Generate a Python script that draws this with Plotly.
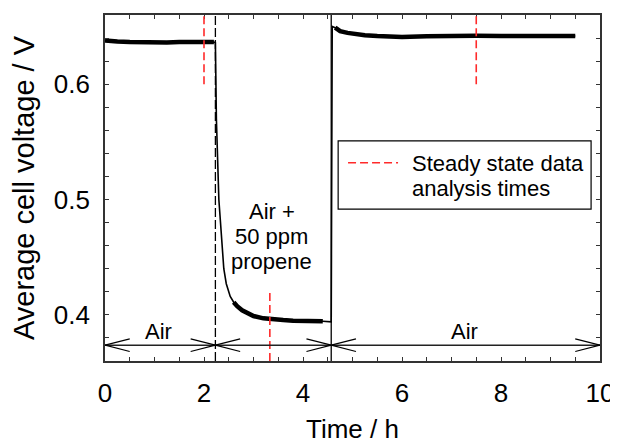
import plotly.graph_objects as go

# ---------------- data ----------------
# Phase 1: air
t_air1 = [0.0, 0.1, 0.25, 0.5, 0.75, 1.0, 1.25, 1.5, 1.75, 2.0, 2.2, 2.23]
v_air1 = [0.638, 0.6375, 0.637, 0.6365, 0.6362, 0.636, 0.6362, 0.6365, 0.6368, 0.637, 0.6365, 0.636]
# Phase 2: air + 50 ppm propene
t_prop = [2.23, 2.25, 2.28, 2.30, 2.33, 2.36, 2.40, 2.45, 2.53, 2.60, 2.67, 2.77, 2.87, 3.0,
          3.2, 3.4, 3.6, 3.8, 4.0, 4.2, 4.4, 4.57]
v_prop = [0.636, 0.570, 0.520, 0.500, 0.482, 0.465, 0.440, 0.427, 0.416, 0.411, 0.4075, 0.404,
          0.402, 0.399, 0.397, 0.396, 0.3955, 0.395, 0.395, 0.3948, 0.3945, 0.394]
# Phase 3: air again
t_air2 = [4.57, 4.59, 4.65, 4.75, 4.9, 5.0, 5.25, 5.5, 6.0, 6.5, 7.0, 7.5, 8.0, 8.5, 9.0, 9.5]
v_air2 = [0.394, 0.650, 0.649, 0.646, 0.6445, 0.6437, 0.6425, 0.6417, 0.641, 0.6415, 0.642,
          0.642, 0.6418, 0.6415, 0.642, 0.6418]

# gas switching times and labels
phase_bounds = [0.0, 2.23, 4.57, 10.0]
phase_labels = [["Air"], ["Air +", "50 ppm", "propene"], ["Air"]]

# steady state analysis times: (time, lower V, upper V)
ss_times = [2.0, 3.33, 7.5]
ss_low = [0.60, 0.36, 0.60]
ss_high = [0.66, 0.42, 0.66]
legend_lines = ["Steady state data", "analysis times"]

x_ticks = [0, 2, 4, 6, 8, 10]
y_ticks = [0.4, 0.5, 0.6]

# ---------------- figure ----------------
FONT = "Liberation Sans, Arial, sans-serif"
BLACK = "#000000"
RED = "#ff2a2a"
Y_ARROW = 0.3737

fig = go.Figure()

t_all = t_air1 + t_prop[1:] + t_air2[1:]
v_all = v_air1 + v_prop[1:] + v_air2[1:]
fig.add_trace(go.Scatter(x=t_all, y=v_all, mode="lines",
                         line=dict(color=BLACK, width=1.6), showlegend=False, hoverinfo="skip"))

# noisy steady portions drawn as a thicker band
band_t, band_v = [], []
for ts, vs, tmin, tmax in [(t_air1, v_air1, 0.0, 2.22), (t_prop, v_prop, 2.55, 4.56),
                           (t_air2, v_air2, 4.62, 10.0)]:
    for t, v in zip(ts, vs):
        if tmin <= t <= tmax:
            band_t.append(t)
            band_v.append(v)
    band_t.append(None)
    band_v.append(None)
fig.add_trace(go.Scatter(x=band_t, y=band_v, mode="lines",
                         line=dict(color=BLACK, width=4.5), showlegend=False, hoverinfo="skip"))

shapes = []
# phase switch lines
shapes.append(dict(type="line", xref="x", yref="paper", x0=phase_bounds[1], x1=phase_bounds[1],
                   y0=0, y1=1, line=dict(color=BLACK, width=1.3, dash="9px,3px")))
shapes.append(dict(type="line", xref="x", yref="paper", x0=phase_bounds[2], x1=phase_bounds[2],
                   y0=0, y1=1, line=dict(color=BLACK, width=1.3)))
# steady state analysis markers
for t, lo, hi in zip(ss_times, ss_low, ss_high):
    shapes.append(dict(type="line", xref="x", yref="y", x0=t, x1=t, y0=lo, y1=hi,
                       line=dict(color=RED, width=1.6, dash="8px,4px")))
# double-headed arrows
HL, HH = 0.5, 0.0055
shapes.append(dict(type="line", xref="x", yref="y", x0=phase_bounds[0], x1=phase_bounds[-1],
                   y0=Y_ARROW, y1=Y_ARROW, line=dict(color="#222", width=1.5)))
for a, b in zip(phase_bounds[:-1], phase_bounds[1:]):
    for tip, back in [(a, a + HL), (b, b - HL)]:
        for s in (1, -1):
            shapes.append(dict(type="line", xref="x", yref="y", x0=tip, x1=back,
                               y0=Y_ARROW, y1=Y_ARROW + s * HH,
                               line=dict(color=BLACK, width=1.2)))

# legend box
shapes.append(dict(type="rect", xref="paper", yref="paper", x0=0.471, x1=0.982, y0=0.439, y1=0.636,
                   line=dict(color=BLACK, width=1.2), fillcolor="white"))
shapes.append(dict(type="line", xref="paper", yref="paper", x0=0.491, x1=0.592, y0=0.573, y1=0.573,
                   line=dict(color=RED, width=1.6, dash="8px,4px")))

annotations = []
for i, line in enumerate(legend_lines):
    annotations.append(dict(xref="paper", yref="paper", x=0.617, y=0.572 - i * 0.072,
                            xanchor="left", yanchor="middle", text=line, showarrow=False,
                            font=dict(family=FONT, size=22, color=BLACK)))
label_y = [0.3855, 0.468, 0.3855]
LINE_DV = 0.0213
for a, b, lines, ly in zip(phase_bounds[:-1], phase_bounds[1:], phase_labels, label_y):
    n = len(lines)
    for i, line in enumerate(lines):
        annotations.append(dict(xref="x", yref="y", x=(a + b) / 2 - 0.03,
                                y=ly + ((n - 1) / 2 - i) * LINE_DV, text=line,
                                showarrow=False, xanchor="center", yanchor="middle",
                                font=dict(family=FONT, size=22, color=BLACK)))

# the page body adds an 8 px offset; margins compensate for it
fig.update_layout(
    width=618, height=444,
    margin=dict(l=97, r=26, t=7, b=91, autoexpand=False),
    paper_bgcolor="white", plot_bgcolor="white",
    showlegend=False,
    shapes=shapes, annotations=annotations,
    font=dict(family=FONT, color=BLACK),
)
fig.update_xaxes(
    range=[0, 10], tickvals=x_ticks, ticktext=[str(v) for v in x_ticks],
    ticks="inside", ticklen=4, tickwidth=1, tickcolor="#333",
    minor=dict(dtick=0.5, ticks="inside", ticklen=4, tickwidth=1, tickcolor="#333"),
    showline=True, linecolor="#333", linewidth=1.6, mirror="allticks",
    showgrid=False, zeroline=False, automargin=False,
    tickfont=dict(family=FONT, size=26, color=BLACK), ticklabelstandoff=8,
    title=dict(text="Time / h", font=dict(family=FONT, size=26, color=BLACK), standoff=13),
)
fig.update_yaxes(
    range=[0.36, 0.66], tickvals=y_ticks, ticktext=["0.4", "0.5", "0.6"],
    ticks="inside", ticklen=4, tickwidth=1, tickcolor="#333",
    minor=dict(dtick=0.02, ticks="inside", ticklen=4, tickwidth=1, tickcolor="#333"),
    showline=True, linecolor="#333", linewidth=1.6, mirror="allticks",
    showgrid=False, zeroline=False, automargin=False,
    tickfont=dict(family=FONT, size=26, color=BLACK), ticklabelstandoff=8,
    title=dict(text="Average cell voltage / V", font=dict(family=FONT, size=29, color=BLACK), standoff=12),
)

fig.write_html("out.html")
